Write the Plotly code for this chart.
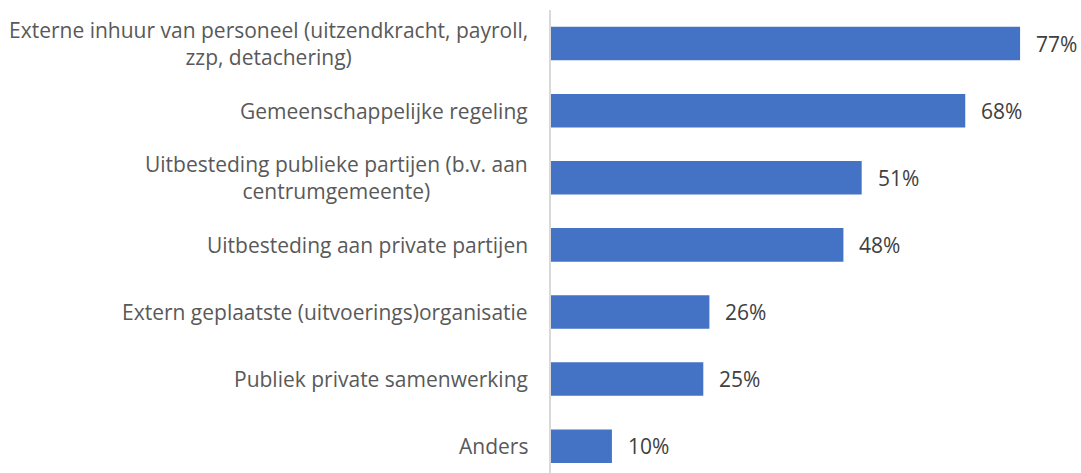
import plotly.graph_objects as go

# Survey results: forms of external collaboration / outsourcing (% of respondents)
categories = [
    "Externe inhuur van personeel (uitzendkracht, payroll,<br>zzp, detachering)",
    "Gemeenschappelijke regeling",
    "Uitbesteding publieke partijen (b.v. aan<br>centrumgemeente)",
    "Uitbesteding aan private partijen",
    "Extern geplaatste (uitvoerings)organisatie",
    "Publiek private samenwerking",
    "Anders",
]
values = [77, 68, 51, 48, 26, 25, 10]
value_labels = ["77%", "68%", "51%", "48%", "26%", "25%", "10%"]

BAR_COLOR = "#4472C4"
LABEL_COLOR = "#595959"
VALUE_COLOR = "#404040"
FONT = "Open Sans"

positions = list(range(len(values)))

fig = go.Figure(
    go.Bar(
        x=values,
        y=positions,
        orientation="h",
        width=0.5,
        marker=dict(color=BAR_COLOR, line=dict(width=0)),
        hoverinfo="skip",
    )
)

annotations = []
# Category labels: right edge near the axis, wrapped lines centred on each other
for pos, label in zip(positions, categories):
    annotations.append(dict(
        x=0, xref="paper", y=pos, yref="y",
        text=label, showarrow=False,
        xanchor="right", yanchor="middle", align="center",
        xshift=-21,
        font=dict(family=FONT, size=21, color=LABEL_COLOR),
    ))

# Value labels to the right of each bar
for pos, v, lab in zip(positions, values, value_labels):
    annotations.append(dict(
        x=v, xref="x", y=pos, yref="y",
        text=lab, showarrow=False,
        xanchor="left", yanchor="middle",
        xshift=14,
        font=dict(family=FONT, size=21, color=VALUE_COLOR),
    ))

fig.update_layout(
    width=1081, height=473,
    margin=dict(l=551, r=0, t=10, b=0),
    paper_bgcolor="white", plot_bgcolor="white",
    showlegend=False,
    annotations=annotations,
    xaxis=dict(range=[0, 87], visible=False, fixedrange=True),
    yaxis=dict(
        range=[6.4, -0.5], showticklabels=False, ticks="",
        showgrid=False, zeroline=False,
        showline=True, linecolor="#D9D9D9", linewidth=2,
        fixedrange=True,
    ),
)

fig.write_html("out.html")
